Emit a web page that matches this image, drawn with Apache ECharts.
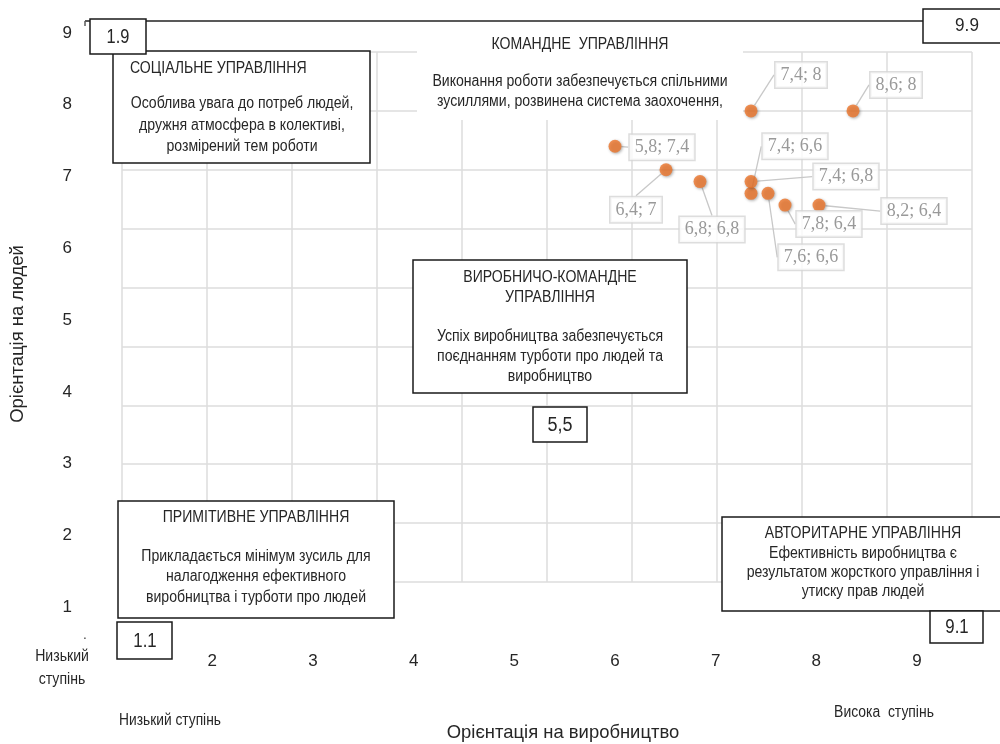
<!DOCTYPE html>
<html>
<head>
<meta charset="utf-8">
<script src="https://cdn.jsdelivr.net/npm/echarts@6/dist/echarts.min.js"></script>
<style>
html,body{margin:0;padding:0;background:#fff;}
#chart{width:1000px;height:744px;}
</style>
</head>
<body>
<div id="chart"></div>
<script>
// ---- data ----
const xValues = [7.4, 8.6, 5.8, 6.4, 6.8, 7.4, 7.4, 7.6, 7.8, 8.2];
const yValues = [8, 8, 7.4, 7, 6.8, 6.6, 6.8, 6.6, 6.4, 6.4];
const xTickLabels = ['2', '3', '4', '5', '6', '7', '8', '9'];
const yTickLabels = ['1', '2', '3', '4', '5', '6', '7', '8', '9'];
const cornerLabels = ['1.9', '9.9', '1.1', '9.1', '5,5'];
const xAxisTitle = 'Орієнтація на виробництво';
const yAxisTitle = 'Орієнтація на людей';
const lowLabel = 'Низький ступінь';
const highLabel = 'Висока  ступінь';
const styleTexts = {
  social: ['СОЦІАЛЬНЕ УПРАВЛІННЯ', 'Особлива увага до потреб людей,', 'дружня атмосфера в колективі,', 'розмірений тем роботи'],
  team: ['КОМАНДНЕ  УПРАВЛІННЯ', 'Виконання роботи забезпечується спільними', 'зусиллями, розвинена система заохочення,'],
  middle: ['ВИРОБНИЧО-КОМАНДНЕ', 'УПРАВЛІННЯ', 'Успіх виробництва забезпечується', 'поєднанням турботи про людей та', 'виробництво'],
  primitive: ['ПРИМІТИВНЕ УПРАВЛІННЯ', 'Прикладається мінімум зусиль для', 'налагодження ефективного', 'виробництва і турботи про людей'],
  authority: ['АВТОРИТАРНЕ УПРАВЛІННЯ', 'Ефективність виробництва є', 'результатом жорсткого управління і', 'утиску прав людей']
};

// ---- layout (label offsets in px from each point) ----
const labelOffsets = [[50,-36],[43,-26],[47,1],[-30,40],[12,48],[44,-47],[95,-5],[43,64],[44,19],[95,6]];

const FONT = "'Liberation Sans', Arial, sans-serif";
const TXT = '#262626';
const SX = 0.88;
const fmt = v => String(v).replace('.', ',');

function txt(x, y, text, size, align, sx, extra) {
  return Object.assign({
    type: 'text', z: 20, x: x, y: y, scaleX: sx == null ? SX : sx,
    style: { x: 0, y: 0, text: text, fill: TXT, fontSize: size, fontFamily: FONT,
             textAlign: align || 'center', textVerticalAlign: 'middle' }
  }, extra || {});
}
function rect(x, y, w, h, stroke, lw) {
  return { type: 'rect', z: 15, shape: { x: x, y: y, width: w, height: h },
    style: { fill: '#fff', stroke: stroke || 'none', lineWidth: lw || 0 } };
}

const graphics = [];
// top line
graphics.push({ type: 'line', z: 12, shape: { x1: 85, y1: 21, x2: 925, y2: 21 }, style: { stroke: '#595959', lineWidth: 2 } });
graphics.push({ type: 'line', z: 12, shape: { x1: 85, y1: 21, x2: 85, y2: 26 }, style: { stroke: '#595959', lineWidth: 1.5 } });
// social
graphics.push(rect(113, 51, 257, 112, '#1a1a1a', 1.5));
graphics.push(txt(130, 69, styleTexts.social[0], 16, 'left'));
[104, 126, 147].forEach((y, i) => graphics.push(txt(242, y, styleTexts.social[i + 1], 16)));
// team (no border)
graphics.push(rect(417, 28, 326, 92));
graphics.push(txt(580, 45, styleTexts.team[0], 16));
[82, 102].forEach((y, i) => graphics.push(txt(580, y, styleTexts.team[i + 1], 16)));
// middle
graphics.push(rect(413, 260, 274, 133, '#1a1a1a', 1.5));
[278, 298, 337, 357, 377].forEach((y, i) => graphics.push(txt(550, y, styleTexts.middle[i], 16)));
// primitive
graphics.push(rect(118, 501, 276, 117, '#1a1a1a', 1.5));
[518, 557, 577, 598].forEach((y, i) => graphics.push(txt(256, y, styleTexts.primitive[i], 16)));
// authoritarian
graphics.push(rect(722, 517, 285, 94, '#1a1a1a', 1.5));
[534, 554, 573, 592].forEach((y, i) => graphics.push(txt(863, y, styleTexts.authority[i], 16)));
// corner boxes
graphics.push(rect(90, 19, 56, 35, '#1a1a1a', 1.5));
graphics.push(txt(118, 37, cornerLabels[0], 21, 'center', 0.78));
graphics.push(rect(923, 9, 85, 34, '#1a1a1a', 1.5));
graphics.push(txt(967, 26, cornerLabels[1], 18, 'center', 0.95));
graphics.push(rect(117, 622, 55, 37, '#1a1a1a', 1.5));
graphics.push(txt(145, 641, cornerLabels[2], 21, 'center', 0.8));
graphics.push(rect(930, 611, 53, 32, '#1a1a1a', 1.5));
graphics.push(txt(957, 627, cornerLabels[3], 21, 'center', 0.8));
graphics.push(rect(533, 407, 54, 35, '#1a1a1a', 1.5));
graphics.push(txt(560, 425, cornerLabels[4], 20, 'center', 0.9));
// degree labels
const lowParts = lowLabel.split(' ');
graphics.push(txt(62, 657, lowParts[0], 16));
graphics.push(txt(62, 680, lowParts[1], 16));
graphics.push(txt(170, 721, lowLabel, 16, 'center', 0.86));
graphics.push(txt(884, 713, highLabel, 16, 'center', 0.87));
graphics.push(txt(85, 636, '.', 12, 'center', 1));
// axis titles
graphics.push(txt(563, 733, xAxisTitle, 19, 'center', 0.97));
graphics.push(txt(18, 334, yAxisTitle, 19, 'center', 0.97, { rotation: Math.PI / 2 }));

const chart = echarts.init(document.getElementById('chart'), null, { renderer: 'canvas' });
const hiddenAxis = { show: false };
chart.setOption({
  animation: false,
  backgroundColor: '#fff',
  grid: [
    { left: 122, top: 52, width: 850, height: 530 },
    { left: 80, top: 33, width: 2, height: 646 },
    { left: 11, top: 645, width: 906, height: 5 }
  ],
  xAxis: [
    { gridIndex: 0, type: 'value', min: 0, max: 10, interval: 1,
      axisLine: { show: false }, axisTick: { show: false }, axisLabel: { show: false },
      splitLine: { show: true, lineStyle: { color: '#dcdcdc', width: 1.5 } } },
    Object.assign({ gridIndex: 1, type: 'value' }, hiddenAxis),
    { gridIndex: 2, type: 'value', min: 0, max: 9, interval: 1,
      axisLine: { show: false }, axisTick: { show: false }, splitLine: { show: false },
      axisLabel: { margin: 3, fontFamily: FONT, fontSize: 17, color: TXT,
        formatter: v => xTickLabels[v - 2] || '' } }
  ],
  yAxis: [
    { gridIndex: 0, type: 'value', min: 0, max: 9, interval: 1,
      axisLine: { show: false }, axisTick: { show: false }, axisLabel: { show: false },
      splitLine: { show: true, lineStyle: { color: '#dcdcdc', width: 1.5 } } },
    { gridIndex: 1, type: 'value', min: 0, max: 9, interval: 1,
      axisLine: { show: false }, axisTick: { show: false }, splitLine: { show: false },
      axisLabel: { margin: 8, fontFamily: FONT, fontSize: 17, color: TXT,
        formatter: v => yTickLabels[v - 1] || '' } },
    Object.assign({ gridIndex: 2, type: 'value' }, hiddenAxis)
  ],
  series: [{
    type: 'scatter',
    xAxisIndex: 0, yAxisIndex: 0,
    data: xValues.map((x, i) => [x, yValues[i]]),
    symbolSize: 13,
    z: 30,
    itemStyle: { color: '#EC7429', shadowBlur: 3, shadowColor: 'rgba(0,0,0,0.4)', shadowOffsetX: 1, shadowOffsetY: 1 },
    label: {
      show: true, position: 'inside',
      formatter: p => fmt(p.value[0]) + '; ' + fmt(p.value[1]),
      fontFamily: "'Liberation Serif', 'Times New Roman', serif", fontSize: 18, color: '#7f7f7f',
      backgroundColor: '#fff', borderColor: '#d4d4d4', borderWidth: 1.5, padding: [4, 5, 3, 5]
    },
    labelLine: { show: true, lineStyle: { color: '#c8c8c8', width: 1.3 } },
    labelLayout: p => ({ dx: labelOffsets[p.dataIndex][0], dy: labelOffsets[p.dataIndex][1] })
  }],
  graphic: graphics
});
</script>
</body>
</html>
